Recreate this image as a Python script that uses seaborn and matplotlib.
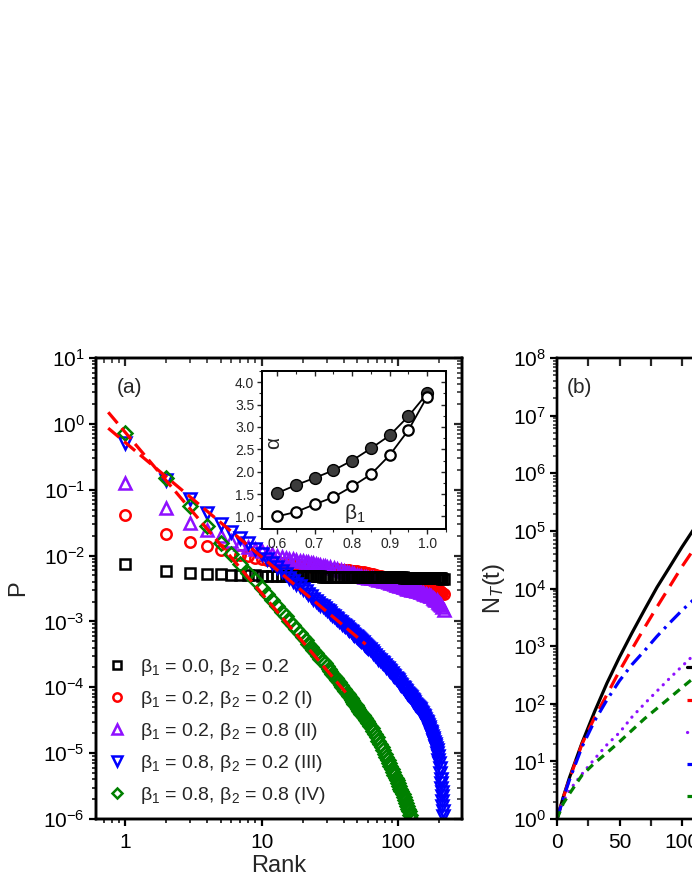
import numpy as np
import pandas as pd
import matplotlib
matplotlib.use("Agg")
import matplotlib.pyplot as plt
import seaborn as sns
from matplotlib.ticker import LogLocator, NullFormatter, MultipleLocator, FormatStrFormatter

# ---------------- data: panel (a) ----------------
rank_main = [1, 2, 3, 4, 5, 6, 7, 8, 9, 10, 11, 12, 13, 14, 15, 16, 17, 18, 19, 20,
             21, 22, 23, 24, 25, 26, 27, 28, 29, 30,
             32, 34, 36, 38, 40, 42, 44, 46, 48, 50, 52, 54, 56, 58, 60,
             63, 66, 69, 72, 75, 78, 81, 84, 87, 90, 93, 96, 99, 102, 105, 108, 111, 114, 117, 120,
             124, 128, 132, 136, 140, 144, 148, 152, 156, 160, 164, 168, 172, 176, 180, 184,
             188, 192, 196, 200, 204, 208, 212, 216]

p_black_e3 = [7.4, 5.9, 5.5, 5.3, 5.2, 5.1, 5.05, 5.0, 5.0, 4.95,
              4.95, 4.93, 4.92, 4.9, 4.9, 4.88, 4.87, 4.86, 4.85, 4.85,
              4.85, 4.84, 4.84, 4.83, 4.83, 4.82, 4.82, 4.81, 4.81, 4.80,
              4.80, 4.79, 4.79, 4.78, 4.78, 4.77, 4.77, 4.76, 4.76, 4.75, 4.75, 4.74, 4.74, 4.73, 4.73,
              4.72, 4.72, 4.71, 4.71, 4.70, 4.70, 4.69, 4.69, 4.68, 4.68, 4.67, 4.67, 4.66, 4.66,
              4.65, 4.65, 4.64, 4.64, 4.63, 4.63,
              4.62, 4.62, 4.61, 4.61, 4.60, 4.60, 4.59, 4.59, 4.58, 4.58, 4.57, 4.57, 4.56, 4.56,
              4.55, 4.55, 4.54, 4.53, 4.52, 4.51, 4.50, 4.49, 4.47, 4.45]

p_red_e3 = [41.0, 21.3, 16.3, 14.0, 12.2, 11.0, 10.3, 9.7, 9.2, 8.8,
            8.5, 8.2, 8.0, 7.8, 7.6, 7.4, 7.3, 7.2, 7.1, 7.0,
            6.9, 6.85, 6.8, 6.75, 6.7, 6.65, 6.6, 6.55, 6.5, 6.4,
            6.35, 6.3, 6.2, 6.1, 6.05, 6.0, 5.95, 5.9, 5.8, 5.75, 5.7, 5.65, 5.6, 5.5, 5.45,
            5.3, 5.2, 5.05, 4.95, 4.9, 4.8, 4.75, 4.65, 4.6, 4.5, 4.45, 4.4, 4.3, 4.25,
            4.2, 4.1, 4.05, 4.0, 3.95, 3.9,
            3.85, 3.8, 3.75, 3.7, 3.65, 3.6, 3.55, 3.5, 3.45, 3.4, 3.35, 3.3, 3.25, 3.2,
            3.15, 3.1, 3.05, 3.0, 2.95, 2.9, 2.85, 2.8, 2.7, 2.6]

p_purple_e3 = [126, 53, 31, 24.5, 20.0, 16.5, 14.8, 13.5, 12.4, 11.6,
               11.0, 10.5, 10.0, 9.6, 9.3, 9.0, 8.8, 8.6, 8.4, 8.2,
               8.05, 7.9, 7.75, 7.6, 7.45, 7.3, 7.2, 7.05, 6.95, 6.8,
               6.6, 6.4, 6.2, 6.0, 5.8, 5.65, 5.5, 5.35, 5.2, 5.05, 4.95, 4.85, 4.75, 4.7, 4.6,
               4.55, 4.5, 4.4, 4.3, 4.2, 4.15, 4.05, 4.0, 3.9, 3.8, 3.7, 3.6, 3.55, 3.5,
               3.4, 3.35, 3.3, 3.2, 3.15, 3.1,
               3.05, 3.0, 2.95, 2.9, 2.85, 2.8, 2.75, 2.7, 2.65, 2.6, 2.55, 2.5, 2.45, 2.4,
               2.3, 2.2, 2.15, 2.1, 2.0, 1.9, 1.85, 1.75, 1.65, 1.5]

# blue (III): every rank to 60, every 2nd rank to 200, then the fall-off
rank_blue = (list(range(1, 61)) + list(range(62, 201, 2))
             + [202, 204, 206, 207, 208, 209, 210, 211, 212, 213, 214])
p_blue = [0.51, 0.14, 0.072, 0.045, 0.030, 0.0225, 0.0182, 0.0155, 0.0126, 0.0105,
          0.0089, 0.0076, 0.0066, 0.0058, 0.0052, 0.0046, 0.0041, 0.0037, 0.0034, 0.0031,
          2.85e-3, 2.6e-3, 2.4e-3, 2.2e-3, 2.05e-3, 1.9e-3, 1.8e-3, 1.7e-3, 1.6e-3, 1.5e-3,
          1.42e-3, 1.34e-3, 1.27e-3, 1.2e-3, 1.14e-3, 1.08e-3, 1.03e-3, 9.8e-4, 9.3e-4, 8.9e-4,
          8.5e-4, 8.1e-4, 7.75e-4, 7.4e-4, 7.1e-4, 6.8e-4, 6.55e-4, 6.3e-4, 6.05e-4, 5.8e-4,
          5.6e-4, 5.4e-4, 5.2e-4, 5.0e-4, 4.8e-4, 4.6e-4, 4.45e-4, 4.3e-4, 4.15e-4, 4.0e-4,
          3.75e-4, 3.5e-4, 3.3e-4, 3.1e-4, 2.9e-4, 2.7e-4, 2.57e-4, 2.43e-4, 2.3e-4, 2.17e-4,
          2.05e-4, 1.95e-4, 1.85e-4, 1.75e-4, 1.65e-4, 1.56e-4, 1.48e-4, 1.4e-4, 1.33e-4, 1.27e-4,
          1.2e-4, 1.13e-4, 1.07e-4, 1.02e-4, 9.7e-5, 9.2e-5, 8.7e-5, 8.3e-5, 7.9e-5, 7.6e-5,
          7.3e-5, 7.0e-5, 6.7e-5, 6.4e-5, 6.15e-5, 5.9e-5, 5.65e-5, 5.4e-5, 5.2e-5, 5.0e-5,
          4.8e-5, 4.6e-5, 4.4e-5, 4.2e-5, 4.0e-5, 3.8e-5, 3.62e-5, 3.45e-5, 3.27e-5, 3.1e-5,
          2.95e-5, 2.8e-5, 2.65e-5, 2.5e-5, 2.35e-5, 2.2e-5, 2.07e-5, 1.95e-5, 1.82e-5, 1.7e-5,
          1.6e-5, 1.5e-5, 1.4e-5, 1.3e-5, 1.2e-5, 1.1e-5, 1.0e-5, 9e-6, 8e-6, 7e-6,
          6e-6, 5e-6, 4e-6, 3.5e-6, 3e-6, 2.6e-6, 2.2e-6, 1.9e-6, 1.6e-6, 1.3e-6, 1.1e-6]

# green (IV): every rank to 60, every 2nd rank to 124
rank_green = list(range(1, 61)) + list(range(62, 125, 2))
p_green = [0.73, 0.151, 0.057, 0.028, 0.0155, 0.0106, 0.0074, 0.0055, 0.0042, 0.0032,
           2.6e-3, 2.1e-3, 1.7e-3, 1.4e-3, 1.2e-3, 1.03e-3, 8.9e-4, 7.7e-4, 6.7e-4, 5.9e-4,
           5.2e-4, 4.6e-4, 4.1e-4, 3.7e-4, 3.3e-4, 3.0e-4, 2.7e-4, 2.5e-4, 2.3e-4, 2.1e-4,
           1.92e-4, 1.75e-4, 1.61e-4, 1.5e-4, 1.38e-4, 1.28e-4, 1.19e-4, 1.1e-4, 1.02e-4, 9.5e-5,
           8.9e-5, 8.3e-5, 7.8e-5, 7.3e-5, 6.85e-5, 6.4e-5, 6.0e-5, 5.6e-5, 5.3e-5, 5.0e-5,
           4.7e-5, 4.4e-5, 4.17e-5, 3.95e-5, 3.75e-5, 3.55e-5, 3.37e-5, 3.2e-5, 3.05e-5, 2.9e-5,
           2.62e-5, 2.38e-5, 2.15e-5, 1.95e-5, 1.75e-5, 1.55e-5, 1.38e-5, 1.23e-5, 1.1e-5, 9.8e-6,
           8.8e-6, 7.9e-6, 7.1e-6, 6.3e-6, 5.7e-6, 5.15e-6, 4.65e-6, 4.2e-6, 3.85e-6, 3.5e-6,
           3.2e-6, 2.9e-6, 2.65e-6, 2.4e-6, 2.15e-6, 1.95e-6, 1.75e-6, 1.58e-6, 1.43e-6, 1.3e-6,
           1.15e-6, 1.0e-6]

# power-law fit lines (end points)
fitA_rank = [0.75, 43]
fitA_P = [1.5, 7.6e-5]
fitB_rank = [0.75, 58]
fitB_P = [0.86, 4.5e-4]

labels_a = ["β$_1$ = 0.0, β$_2$ = 0.2",
            "β$_1$ = 0.2, β$_2$ = 0.2 (I)",
            "β$_1$ = 0.2, β$_2$ = 0.8 (II)",
            "β$_1$ = 0.8, β$_2$ = 0.2 (III)",
            "β$_1$ = 0.8, β$_2$ = 0.8 (IV)"]

# inset
beta1 = [0.60, 0.65, 0.70, 0.75, 0.80, 0.85, 0.90, 0.95, 1.00]
alpha_filled = [1.52, 1.70, 1.86, 2.03, 2.25, 2.52, 2.81, 3.24, 3.75]
alpha_open = [1.00, 1.10, 1.27, 1.43, 1.67, 1.94, 2.37, 2.93, 3.68]

# ---------------- data: panel (b) ----------------
t_b = [0, 5, 10, 20, 30, 40, 50, 60, 70, 80, 90, 100, 110]
n_black = [1, 2.4, 5.25, 20.9, 72.4, 229, 646, 1700, 4270, 10500, 23400, 52500, 112000]
n_red = [1, 2.34, 5.0, 20.0, 57.5, 145, 372, 891, 2090, 4790, 10700, 24000, 50100]
n_purple = [1, 2.0, 3.16, 6.03, 11.0, 19.5, 31.6, 58.9, 100, 166, 275, 447, 724]
n_blue = [1, 2.29, 4.79, 17.8, 50.1, 117, 251, 479, 832, 1480, 2510, 4170, 6610]
n_green = [1, 1.86, 2.75, 5.75, 9.33, 14.1, 21.9, 34.7, 55.0, 83.2, 126, 191, 288]

y_ticks_a = [1e-6, 1e-5, 1e-4, 1e-3, 1e-2, 1e-1, 1, 10]
y_ticklabels_a = ["10$^{-6}$", "10$^{-5}$", "10$^{-4}$", "10$^{-3}$", "10$^{-2}$",
                  "10$^{-1}$", "10$^{0}$", "10$^{1}$"]
x_ticks_a = [1, 10, 100]
x_ticklabels_a = ["1", "10", "100"]
y_ticks_b = [1, 1e1, 1e2, 1e3, 1e4, 1e5, 1e6, 1e7, 1e8]
y_ticklabels_b = ["10$^{%d}$" % i for i in range(9)]

assert len(rank_blue) == len(p_blue) and len(rank_green) == len(p_green)

# ---------------- style ----------------
sns.set_theme(style="ticks")
plt.rcParams["font.family"] = ["Liberation Sans", "DejaVu Sans"]
plt.rcParams["mathtext.fontset"] = "custom"
plt.rcParams["mathtext.rm"] = "Liberation Sans"
plt.rcParams["mathtext.it"] = "Liberation Sans:italic"
plt.rcParams["mathtext.bf"] = "Liberation Sans:bold"
plt.rcParams["mathtext.sf"] = "Liberation Sans"
plt.rcParams["axes.unicode_minus"] = True

W, H = 692, 896
fig = plt.figure(figsize=(W / 100, H / 100), dpi=100)
fig.patch.set_facecolor("white")


def rect(l, t, r, b):
    return [l / W, 1 - b / H, (r - l) / W, (b - t) / H]


TICK_FS = 15
SPINE_W = 1.7
LEG_FS = 14


def spines(a, w):
    for s in a.spines.values():
        s.set_linewidth(w)
        s.set_color("black")


# ---------------- panel (a) ----------------
ax = fig.add_axes(rect(96, 358, 462, 819))
ax.set_xscale("log")
ax.set_yscale("log")

series = [
    (rank_main, np.array(p_red_e3) * 1e-3, "o", "#ff0000", labels_a[1], 7.5),
    (rank_main, np.array(p_purple_e3) * 1e-3, "^", "#8f10ff", labels_a[2], 8.5),
    (rank_main, np.array(p_black_e3) * 1e-3, "s", "#000000", labels_a[0], 7.0),
    (rank_blue, p_blue, "v", "#0000ff", labels_a[3], 8.5),
    (rank_green, p_green, "D", "#008000", labels_a[4], 7.0),
]
for r, p, m, c, lab, ms in series:
    df = pd.DataFrame({"rank": r, "P": p})
    sns.lineplot(data=df, x="rank", y="P", ax=ax, marker=m, linestyle="", color=c,
                 mfc="none", mec=c, mew=1.8, ms=ms, label=lab, sort=False,
                 estimator=None)

for fr, fp in [(fitA_rank, fitA_P), (fitB_rank, fitB_P)]:
    dff = pd.DataFrame({"rank": fr, "P": fp})
    sns.lineplot(data=dff, x="rank", y="P", ax=ax, color="#ff0000", lw=2.3,
                 linestyle=(0, (4.5, 2.0)), sort=False, estimator=None)

ax.set_xlim(0.61, 295)
ax.set_ylim(1e-6, 10)
ax.set_xticks(x_ticks_a, labels=x_ticklabels_a)
ax.set_yticks(y_ticks_a, labels=y_ticklabels_a)
ax.xaxis.set_minor_locator(LogLocator(base=10, subs=np.arange(2, 10), numticks=50))
ax.yaxis.set_minor_locator(LogLocator(base=10, subs=np.arange(2, 10), numticks=50))
ax.xaxis.set_minor_formatter(NullFormatter())
ax.yaxis.set_minor_formatter(NullFormatter())
ax.tick_params(which="major", direction="out", length=5, width=1.6, labelsize=TICK_FS,
               color="black", labelcolor="black")
ax.tick_params(which="minor", direction="out", length=3, width=1.1, color="black")
ax.tick_params(axis="x", which="major", pad=5)
ax.tick_params(axis="y", which="major", pad=3)
ax.set_xlabel("Rank", fontsize=17, labelpad=2)
ax.set_ylabel("P", fontsize=17, labelpad=10)
spines(ax, SPINE_W)
ax.text(0.057, 0.935, "(a)", transform=ax.transAxes, fontsize=15, ha="left", va="center")

h, l = ax.get_legend_handles_labels()
order = [l.index(s) for s in labels_a]
ax.legend([h[i] for i in order], [l[i] for i in order], loc="lower left",
          bbox_to_anchor=(0.02, 0.02), frameon=False, fontsize=LEG_FS, handlelength=1.0,
          handletextpad=0.7, labelspacing=0.57, borderpad=0.2, borderaxespad=0, numpoints=1,
          markerscale=0.8)

axt = ax.twiny()
axt.set_xscale("log")
axt.set_xlim(ax.get_xlim())
axt.set_xticks(x_ticks_a)
axt.xaxis.set_minor_locator(LogLocator(base=10, subs=np.arange(2, 10), numticks=50))
axt.xaxis.set_major_formatter(NullFormatter())
axt.xaxis.set_minor_formatter(NullFormatter())
axt.tick_params(axis="x", which="major", direction="in", length=6, width=1.6, labeltop=False)
axt.tick_params(axis="x", which="minor", direction="in", length=3.5, width=1.1)
spines(axt, SPINE_W)
axr = ax.twinx()
axr.set_yscale("log")
axr.set_ylim(ax.get_ylim())
axr.set_yticks(y_ticks_a)
axr.yaxis.set_minor_locator(LogLocator(base=10, subs=np.arange(2, 10), numticks=50))
axr.yaxis.set_major_formatter(NullFormatter())
axr.yaxis.set_minor_formatter(NullFormatter())
axr.tick_params(axis="y", which="major", direction="in", length=6, width=1.6, labelright=False)
axr.tick_params(axis="y", which="minor", direction="in", length=3.5, width=1.1)
spines(axr, SPINE_W)

# inset
ins = ax.inset_axes([(262 - 96) / 366, (819 - 529) / 461, 184 / 366, 158 / 461])
ins.set_facecolor("white")
dfi = pd.DataFrame({"beta1": beta1, "filled": alpha_filled, "open": alpha_open})
sns.lineplot(data=dfi, x="beta1", y="filled", ax=ins, color="black", lw=1.3, marker="o",
             ms=8.5, mfc="#3c3c3c", mec="black", mew=1.0, sort=False, estimator=None)
sns.lineplot(data=dfi, x="beta1", y="open", ax=ins, color="black", lw=1.3, marker="o",
             ms=7.5, mfc="white", mec="black", mew=1.6, sort=False, estimator=None)
ins.set_xlim(0.56, 1.05)
ins.set_ylim(0.72, 4.25)
ins.xaxis.set_major_locator(MultipleLocator(0.1))
ins.xaxis.set_minor_locator(MultipleLocator(0.05))
ins.yaxis.set_major_locator(MultipleLocator(0.5))
ins.yaxis.set_minor_locator(MultipleLocator(0.25))
ins.xaxis.set_major_formatter(FormatStrFormatter("%.1f"))
ins.yaxis.set_major_formatter(FormatStrFormatter("%.1f"))
ins.tick_params(which="major", direction="out", length=3.5, width=1.0, labelsize=10, pad=2)
ins.tick_params(which="minor", direction="out", length=2, width=0.8)
ins.set_xlabel("")
ins.set_ylabel("")
spines(ins, 1.1)
ins.text(0.065, 0.545, "α", transform=ins.transAxes, rotation=90, fontsize=15,
         ha="center", va="center")
ins.text(0.505, 0.10, "β$_1$", transform=ins.transAxes, fontsize=15, ha="center", va="center")
inr = ins.twinx()
inr.set_ylim(ins.get_ylim())
inr.yaxis.set_major_locator(MultipleLocator(0.5))
inr.yaxis.set_minor_locator(MultipleLocator(0.25))
inr.tick_params(axis="y", which="major", direction="in", length=3.5, width=1.0, labelright=False)
inr.tick_params(axis="y", which="minor", direction="in", length=2, width=0.8)
spines(inr, 1.1)
intp = ins.twiny()
intp.set_xlim(ins.get_xlim())
intp.xaxis.set_major_locator(MultipleLocator(0.1))
intp.xaxis.set_minor_locator(MultipleLocator(0.05))
intp.tick_params(axis="x", which="major", direction="in", length=3.5, width=1.0, labeltop=False)
intp.tick_params(axis="x", which="minor", direction="in", length=2, width=0.8)
spines(intp, 1.1)

# ---------------- panel (b) ----------------
axb = fig.add_axes(rect(557, 358, 932, 819))
axb.set_yscale("log")
styles_b = [
    (n_black, "#000000", "-", labels_a[0]),
    (n_red, "#ff0000", (0, (4.7, 2.7)), labels_a[1]),
    (n_purple, "#8f10ff", (0, (0.05, 2.3)), labels_a[2]),
    (n_blue, "#0000ff", (0, (4.3, 1.9, 0.9, 1.9)), labels_a[3]),
    (n_green, "#008000", (0, (2.6, 1.9)), labels_a[4]),
]
for n, c, ls, lab in styles_b:
    dfb = pd.DataFrame({"t": t_b, "N": n})
    sns.lineplot(data=dfb, x="t", y="N", ax=axb, color=c, lw=2.3, linestyle=ls,
                 label=lab, sort=False, estimator=None)
axb.lines[2].set_dash_capstyle("round")
axb.set_xlim(0, 300)
axb.set_ylim(1, 1e8)
axb.xaxis.set_major_locator(MultipleLocator(50))
axb.xaxis.set_minor_locator(MultipleLocator(25))
axb.set_yticks(y_ticks_b, labels=y_ticklabels_b)
axb.yaxis.set_minor_locator(LogLocator(base=10, subs=np.arange(2, 10), numticks=50))
axb.yaxis.set_minor_formatter(NullFormatter())
axb.tick_params(which="major", direction="out", length=5, width=1.6, labelsize=TICK_FS,
                color="black", labelcolor="black")
axb.tick_params(axis="x", which="minor", direction="out", length=5, width=1.6)
axb.tick_params(axis="y", which="minor", direction="out", length=3, width=1.1)
axb.tick_params(axis="x", which="major", pad=5)
axb.tick_params(axis="y", which="major", pad=3)
axb.set_xlabel("")
axb.set_ylabel("N$_T$(t)", fontsize=17, labelpad=4)
spines(axb, SPINE_W)
axb.text(0.027, 0.935, "(b)", transform=axb.transAxes, fontsize=15, ha="left", va="center")
lg = axb.legend(loc="upper left", bbox_to_anchor=(0.336, 0.355), frameon=False, fontsize=LEG_FS,
                handlelength=2.2, handletextpad=0.7, labelspacing=0.57, borderpad=0.2,
                borderaxespad=0)
lg.get_lines()[2].set_dash_capstyle("round")
axbt = axb.twiny()
axbt.set_xlim(axb.get_xlim())
axbt.xaxis.set_major_locator(MultipleLocator(25))
axbt.tick_params(axis="x", which="major", direction="in", length=6, width=1.6, labeltop=False)
spines(axbt, SPINE_W)

fig.savefig("out.png", dpi=100, facecolor="white")
